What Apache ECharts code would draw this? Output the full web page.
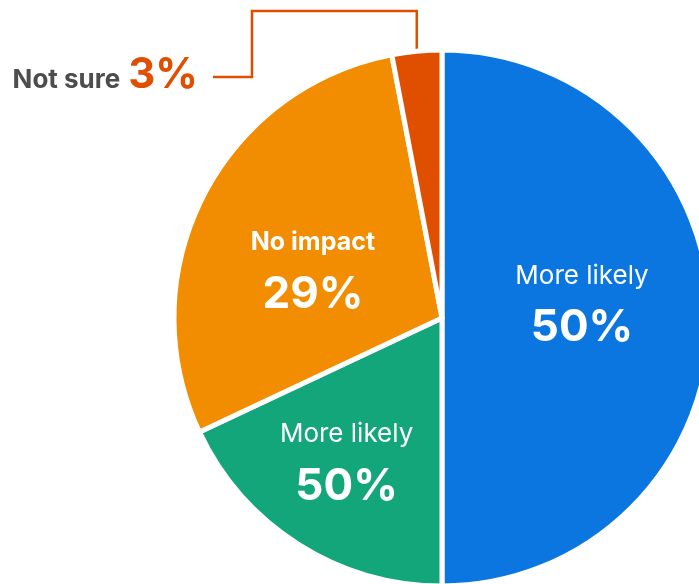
<!DOCTYPE html>
<html>
<head>
<meta charset="utf-8">
<script src="https://cdn.jsdelivr.net/npm/echarts@6/dist/echarts.min.js"></script>
<style>
  html, body { margin: 0; padding: 0; background: #fff; }
  #chart { width: 699px; height: 584px; }
</style>
</head>
<body>
<div id="chart"></div>
<script>
// slice data
var categories = ["More likely", "More likely", "No impact", "Not sure"];
var values = [50, 18, 29, 3];
var pctLabels = ["50%", "50%", "29%", "3%"];
var colors = ["#0b76e0", "#14a67b", "#f28c00", "#e04e00"];

var CX = 442, CY = 318, R = 268;

// label nudges for the inside labels
var labelShift = [[3, -16], [-22, 27], [-7, 13]];

// where the leader line meets the small slice (mid angle of last slice)
function sliceMidPoint(idx) {
  var total = values.reduce(function (a, b) { return a + b; }, 0);
  var before = 0;
  for (var i = 0; i < idx; i++) before += values[i];
  var ang = (before + values[idx] / 2) / total * Math.PI * 2;
  return [CX + R * Math.sin(ang), CY - R * Math.cos(ang)];
}

var chart = echarts.init(document.getElementById("chart"));
var FONT = "Inter";

var option = {
  animation: false,
  series: [{
    type: "pie",
    center: [CX, CY],
    radius: R,
    startAngle: 90,
    clockwise: true,
    itemStyle: { borderColor: "#fff", borderWidth: 5 },
    emphasis: { disabled: true },
    data: values.map(function (v, i) {
      var inside = i < 3;
      return {
        name: categories[i],
        value: v,
        itemStyle: { color: colors[i] },
        label: inside ? {
          position: "inside",
          formatter: "{" + (i === 2 ? "h" : "a") + "|" + categories[i] + "}\n{b|" + pctLabels[i] + "}"
        } : {
          position: "outside",
          formatter: "{n|" + categories[i] + "}{p|" + pctLabels[i] + "}"
        },
        labelLine: inside ? { show: false } : {
          show: true,
          lineStyle: { color: "#e04e00", width: 2.5 }
        }
      };
    }),
    label: {
      show: true,
      fontFamily: FONT,
      rich: {
        a: { color: "#fff", fontSize: 26, fontFamily: FONT, lineHeight: 52 },
        h: { color: "#fff", fontSize: 25, fontWeight: "bold", fontFamily: FONT, lineHeight: 52 },
        b: { color: "#fff", fontSize: 44, fontWeight: "bold", fontFamily: FONT, lineHeight: 52 },
        n: { color: "#4d4d4d", fontSize: 26, fontWeight: "bold", fontFamily: FONT, lineHeight: 46, verticalAlign: "bottom", padding: [0, 8, 3, 0] },
        p: { color: "#e04e00", fontSize: 42, fontWeight: "bold", fontFamily: FONT, lineHeight: 46, verticalAlign: "bottom" }
      }
    },
    labelLayout: function (params) {
      var i = params.dataIndex;
      if (i < 3) {
        return { dx: labelShift[i][0], dy: labelShift[i][1] };
      }
      var p = sliceMidPoint(i);
      return {
        x: 198, y: 73, align: "right", verticalAlign: "middle",
        labelLinePoints: [[213, 77], [252, 77], [252, 11], [p[0], 11], [p[0], p[1]]]
      };
    }
  }]
};

chart.setOption(option);
</script>
</body>
</html>
